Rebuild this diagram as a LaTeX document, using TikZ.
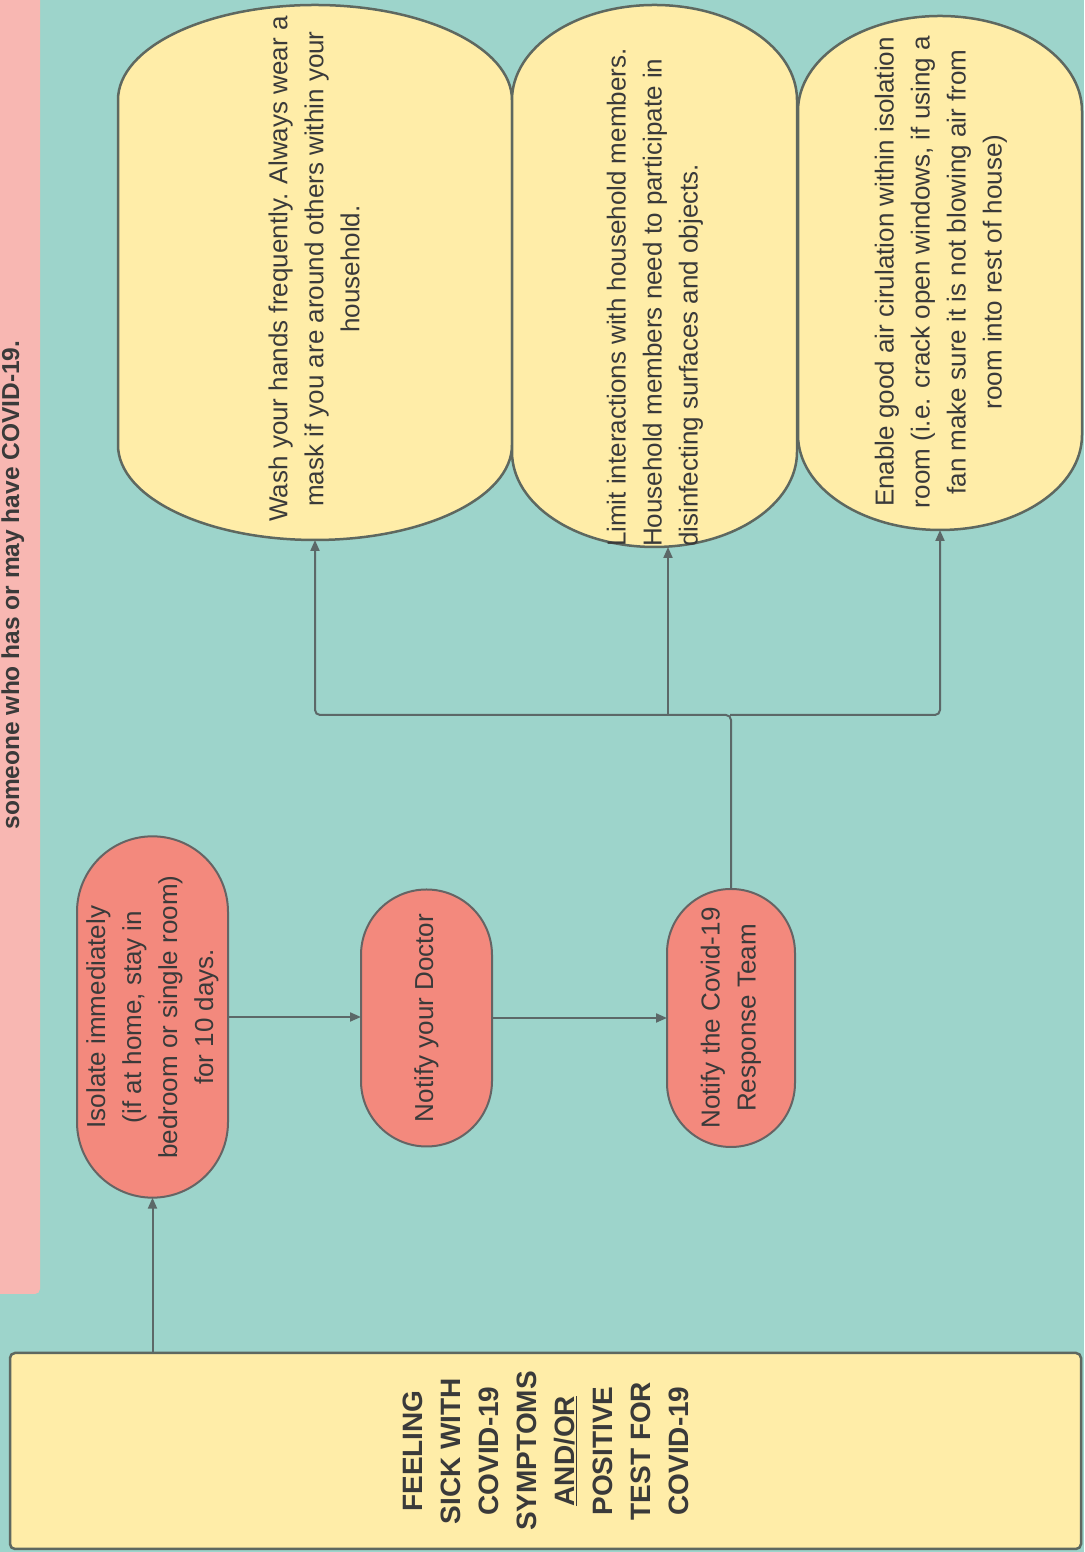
\documentclass[tikz,border=0pt]{standalone}
\usepackage{fontspec}
\setmainfont{Liberation Sans}
\usetikzlibrary{arrows.meta,shapes.misc,calc}
\definecolor{tealbg}{HTML}{9DD4CB}
\definecolor{pinkstrip}{HTML}{F8B7B2}
\definecolor{yellowfill}{HTML}{FFEDA8}
\definecolor{salmon}{HTML}{F3897D}
\definecolor{boxborder}{HTML}{5E6860}
\definecolor{pillborder}{HTML}{666464}
\definecolor{lineclr}{HTML}{5C6868}
\definecolor{txt}{HTML}{3A3A3A}
\pgfdeclarelayer{bottomlayer}
\pgfdeclarelayer{shapelayer}
\pgfsetlayers{bottomlayer,shapelayer,main}
\newcommand\drawcapbox[2]{%
  \path let \p1=(#1.south west), \p2=(#1.north east), \n1={(\x2-\x1)/2} in
    [capshape] (\x1,\y1+#2pt) -- (\x1,\y2-#2pt)
    arc[start angle=180,end angle=0,x radius=\n1,y radius=#2pt]
    -- (\x2,\y1+#2pt)
    arc[start angle=0,end angle=-180,x radius=\n1,y radius=#2pt] -- cycle;}
\begin{document}
\begin{tikzpicture}[x=1pt,y=1pt,
  every node/.style={text=txt, inner sep=0pt, outer sep=0pt},
  bodytext/.style={font=\fontsize{26}{36}\selectfont},
  pill/.style={rounded rectangle, rotate=90, draw=pillborder, line width=2pt,
    fill=salmon, align=center, bodytext},
  bigbox/.style={rectangle, rounded corners=5pt, rotate=90, draw=boxborder,
    line width=2.5pt, fill=yellowfill, align=center,
    font=\bfseries\fontsize{28}{38}\selectfont},
  capnode/.style={rectangle},
  capshape/.style={fill=yellowfill, draw=boxborder, line width=2.5pt},
  conn/.style={draw=lineclr, line width=2pt, -{Triangle[length=11pt,width=9pt]}},
  plainline/.style={draw=lineclr, line width=2pt}]
\useasboundingbox (0,0) rectangle (1084,1552);
\begin{pgfonlayer}{bottomlayer}
  \fill[tealbg] (0,0) rectangle (1084,1552);
  \fill[pinkstrip] (0,1560) -- (0,258) {[rounded corners=5pt] -- (40,258) -- (40,1560)} -- cycle;
\end{pgfonlayer}

\node[rotate=90, anchor=base, font=\bfseries\fontsize{24.5}{28}\selectfont] (note) at (19,967)
  {someone who has or may have COVID-19.};

% start box
\node[bigbox, minimum width=196, minimum height=1071] (sick) at (545.5,101)
  {FEELING\\SICK WITH\\COVID-19\\SYMPTOMS\\\underline{AND/OR}\\POSITIVE\\TEST FOR\\COVID-19};

% pills
\node[pill, minimum width=317, minimum height=151] (iso) at (152.5,535)
  {Isolate immediately\\(if at home, stay in\\bedroom or single room)\\for 10 days.};
\node[pill, minimum width=257, minimum height=131] (doc) at (426.5,534)
  {Notify your Doctor};
\node[pill, minimum width=258, minimum height=128] (resp) at (731,534)
  {Notify the Covid-19\\Response Team};

% yellow advice boxes
\node[capnode, minimum width=394, minimum height=535] (boxA) at (315,1279.5) {};
\node[capnode, minimum width=285, minimum height=542] (boxB) at (654.5,1276) {};
\node[capnode, minimum width=284, minimum height=514] (boxC) at (940,1279) {};
\begin{pgfonlayer}{shapelayer}
  \drawcapbox{boxA}{95}
  \drawcapbox{boxB}{95}
  \drawcapbox{boxC}{95}
\end{pgfonlayer}

\node[rotate=90, align=center, bodytext] (tA) at (314,1283)
  {Wash your hands frequently. Always wear a\\mask if you are around others within your\\household.};
\node[rotate=90, anchor=west, align=left, bodytext] (tB) at (655,1005)
  {Limit interactions with household members.\\Household members need to participate in\\disinfecting surfaces and objects.};
\node[rotate=90, align=center, bodytext] (tC) at (941,1280)
  {Enable good air cirulation within isolation\\room (i.e. crack open windows, if using a\\fan make sure it is not blowing air from\\room into rest of house)};

% connectors
\draw[conn] (iso.west |- sick.east) -- (iso.west);
\draw[conn] (iso.south) -- (iso.south -| doc.north);
\draw[conn] (doc.south) -- (doc.south -| resp.north);
\coordinate (junc) at ($(resp.east)+(0,174)$);
\draw[conn, rounded corners=5pt] (resp.east) -- (junc) -| (boxA.south);
\draw[conn] (junc -| boxB.south) ++(13.5,0) coordinate (jB) -- (jB |- boxB.south);
\draw[conn, rounded corners=5pt] ($(junc)+(-1,0)$) -| (boxC.south);
\end{tikzpicture}
\end{document}
